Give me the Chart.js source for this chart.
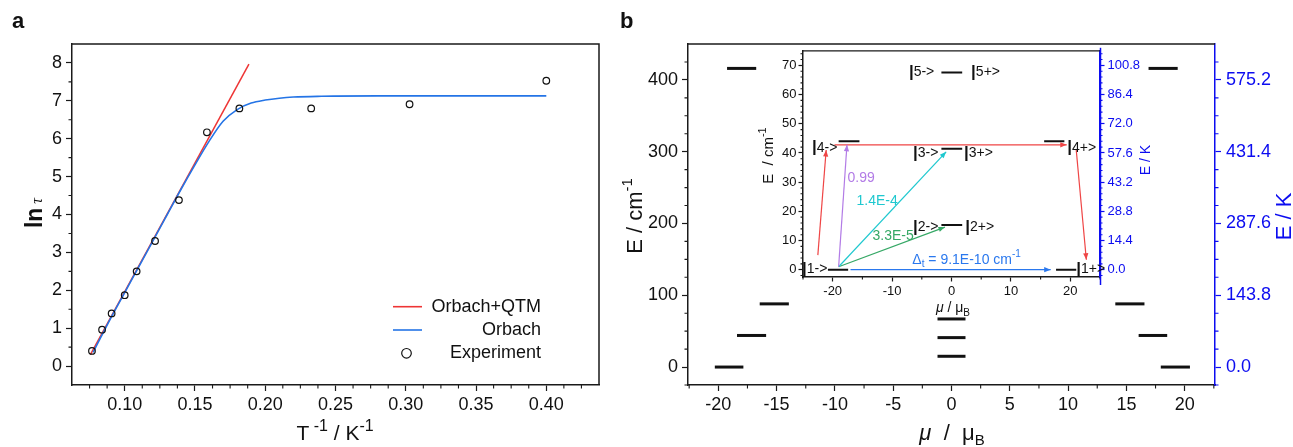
<!DOCTYPE html>
<html><head><meta charset="utf-8">
<script src="https://cdn.jsdelivr.net/npm/chart.js@4/dist/chart.umd.min.js"></script>
<style>
html,body{margin:0;padding:0;background:#fff;}
#wrap{position:relative;width:1293px;height:447px;overflow:hidden;background:#fff;}
canvas{position:absolute;}
</style></head><body>
<div id="wrap">
<canvas id="cA" width="620" height="447" style="left:0;top:0;width:620px;height:447px"></canvas>
<canvas id="cB" width="673" height="447" style="left:620px;top:0;width:673px;height:447px"></canvas>
<canvas id="cC" width="420" height="290" style="left:740px;top:40px;width:420px;height:290px"></canvas>
</div>
<script>
// ================= DATA =================
// Panel a : ln(tau) vs 1/T
const invT  = [0.0767, 0.0839, 0.0907, 0.1000, 0.1085, 0.1216, 0.1386, 0.1585, 0.1816, 0.2327, 0.3027, 0.4000];
const lnTau = [0.40, 0.96, 1.39, 1.87, 2.50, 3.30, 4.38, 6.17, 6.80, 6.80, 6.91, 7.53];
const fitRedX = [0.0756, 0.1884];
const fitRedY = [0.30, 7.97];
const fitBlueX = [0.0775, 0.09, 0.10, 0.11, 0.12, 0.13, 0.14, 0.15, 0.16, 0.17, 0.18, 0.19, 0.20, 0.21, 0.22, 0.24, 0.28, 0.40];
const fitBlueY = [0.36, 1.26, 1.94, 2.62, 3.30, 3.98, 4.66, 5.31, 5.93, 6.46, 6.77, 6.94, 7.02, 7.07, 7.10, 7.12, 7.13, 7.13];
const legendNames = ['Orbach+QTM', 'Orbach', 'Experiment'];
const aXTicks = [0.10, 0.15, 0.20, 0.25, 0.30, 0.35, 0.40];
const aXTickLabels = ['0.10', '0.15', '0.20', '0.25', '0.30', '0.35', '0.40'];
const aYTicks = [0, 1, 2, 3, 4, 5, 6, 7, 8];
const aYTickLabels = ['0', '1', '2', '3', '4', '5', '6', '7', '8'];

// Panel b main : energy levels (cm-1) vs magnetic moment
const sideE     = [0, 44, 88, 416];
const leftFrom  = [-20.3, -18.4, -16.45, -19.25];
const leftTo    = [-17.85, -15.9, -13.95, -16.75];
const rightFrom = [17.95, 16.05, 14.05, 16.9];
const rightTo   = [20.45, 18.5, 16.55, 19.4];
const centerE    = [15, 41, 67];
const centerFrom = [-1.2, -1.2, -1.2];
const centerTo   = [1.2, 1.2, 1.2];
const bXTicks = [-20, -15, -10, -5, 0, 5, 10, 15, 20];
const bXTickLabels = ['-20', '-15', '-10', '-5', '0', '5', '10', '15', '20'];
const bYTicks = [0, 100, 200, 300, 400];
const bYTickLabels = ['0', '100', '200', '300', '400'];
const bY2TickLabels = ['0.0', '143.8', '287.6', '431.4', '575.2'];

// Inset : low-lying levels and transition arrows
const insetE    = [0, 0, 15.3, 41.4, 44.0, 44.0, 67.6];
const insetFrom = [-20.8, 17.6, -1.7, -1.7, -19.0, 15.6, -1.7];
const insetTo   = [-17.4, 21.0, 1.8, 1.8, -15.5, 19.0, 1.8];
const arrowFromX = [-22.5, -19.0, -19.0, -19.0, -19.7, 21.0, -17.0];
const arrowFromY = [5.0, 1.0, 1.0, 1.0, 42.8, 41.0, 0.0];
const arrowToX   = [-21.1, -17.6, -0.9, -1.1, 19.4, 22.7, 16.7];
const arrowToY   = [41.0, 42.8, 40.4, 14.6, 42.8, 3.4, 0.0];
const stateNames = ['1->', '1+>', '4->', '4+>', '3->', '3+>', '2->', '2+>', '5->', '5+>'];
const stateAtX   = [-20.9, 21.0, -19.2, 19.5, -2.2, 2.1, -2.2, 2.3, -2.9, 3.3];
const stateAtY   = [0.3, 0.3, 41.8, 41.8, 40.0, 40.0, 14.6, 14.6, 67.6, 67.6];
const rateTexts  = ['0.99', '1.4E-4', '3.3E-5'];
const rateAtX    = [-17.5, -16.0, -13.3];
const rateAtY    = [31.5, 23.4, 11.4];
const deltaText  = ['\u0394', 't', ' = 9.1E-10 cm', '-1'];
const deltaAt    = [-6.6, 3.2];
const iXTicks = [-20, -10, 0, 10, 20];
const iXTickLabels = ['-20', '-10', '0', '10', '20'];
const iYTicks = [0, 10, 20, 30, 40, 50, 60, 70];
const iYTickLabels = ['0', '10', '20', '30', '40', '50', '60', '70'];
const iY2TickLabels = ['0.0', '14.4', '28.8', '43.2', '57.6', '72.0', '86.4', '100.8'];

// ================= STYLE =================
const FONT = "'Liberation Sans', Arial, Helvetica, sans-serif";
const SERIF = "'Liberation Serif', 'Times New Roman', serif";
const AX = '#1a1a1a';
const BLUEAX = '#0c0cf0';
const RED = '#ee3535', BLUE = '#2474e6';
const arrowColors = ['#ef4545', '#b27be6', '#1fc8cf', '#36a866', '#ef4545', '#ef4545', '#2a78ee'];
const rateColors  = ['#b27be6', '#1fc8cf', '#36a866'];
Chart.defaults.font.family = FONT;
Chart.defaults.color = '#111';
Chart.defaults.animation = false;

function mkAxis(o) {
  return {
    type: 'linear', position: o.pos, min: o.min, max: o.max,
    afterBuildTicks: s => { s.ticks = o.ticks.map(v => ({ value: v })); },
    afterFit: s => { if (o.w !== undefined) s.width = o.w; if (o.h !== undefined) s.height = o.h; },
    ticks: { callback: (v, i) => o.labels[i], color: o.color || '#111', font: { size: o.size || 18, family: FONT },
             padding: o.pad !== undefined ? o.pad : 4, autoSkip: false, maxRotation: 0, minRotation: 0 },
    grid: { drawOnChartArea: false, drawTicks: true, tickLength: o.tl || 6, tickWidth: 1.2,
            tickColor: o.line || AX, color: o.line || AX },
    border: { display: true, color: o.line || AX, width: 1.5 }
  };
}
function range(a, b, step, skip) {
  const out = [];
  for (let v = a; v <= b + 1e-9; v += step) {
    const r = Math.round(v * 10000) / 10000;
    if (skip && Math.abs(r / skip - Math.round(r / skip)) < 1e-6) continue;
    out.push(r);
  }
  return out;
}
function drawMinor(chart, items) {
  const ctx = chart.ctx;
  items.forEach(it => {
    const sc = chart.scales[it.scale];
    ctx.save(); ctx.strokeStyle = it.color || AX; ctx.lineWidth = 1.1; ctx.beginPath();
    it.values.forEach(v => {
      const p = sc.getPixelForValue(v);
      if (it.side === 'bottom') { ctx.moveTo(p, sc.top); ctx.lineTo(p, sc.top + it.len); }
      else if (it.side === 'left') { ctx.moveTo(sc.right, p); ctx.lineTo(sc.right - it.len, p); }
      else { ctx.moveTo(sc.left, p); ctx.lineTo(sc.left + it.len, p); }
    });
    ctx.stroke(); ctx.restore();
  });
}
function rich(ctx, parts, x, y, align, rot, baseline) {
  ctx.save();
  ctx.translate(x, y); if (rot) ctx.rotate(rot);
  ctx.textBaseline = baseline || 'alphabetic'; ctx.textAlign = 'left';
  let w = 0;
  parts.forEach(p => { ctx.font = p.f; p.w = ctx.measureText(p.t).width; w += p.w; });
  let cx = align === 'center' ? -w / 2 : align === 'right' ? -w : 0;
  parts.forEach(p => { ctx.font = p.f; ctx.fillStyle = p.c || '#111'; ctx.fillText(p.t, cx, p.dy || 0); cx += p.w; });
  ctx.restore();
}
function seg(x0, x1, y, color, width) {
  return { data: [{ x: x0, y: y }, { x: x1, y: y }], showLine: true, borderColor: color, borderWidth: width,
           pointRadius: 0, borderCapStyle: 'butt', fill: false };
}

// ================= PANEL a =================
const aDatasets = [
  { label: legendNames[2], data: invT.map((x, i) => ({ x: x, y: lnTau[i] })), showLine: false,
    pointRadius: 3.3, pointBorderWidth: 1.2, pointBorderColor: '#111', pointBackgroundColor: 'rgba(255,255,255,0)' },
  { label: legendNames[1], data: fitBlueX.map((x, i) => ({ x: x, y: fitBlueY[i] })), showLine: true,
    borderColor: BLUE, borderWidth: 1.6, pointRadius: 0, cubicInterpolationMode: 'monotone', fill: false },
  { label: legendNames[0], data: fitRedX.map((x, i) => ({ x: x, y: fitRedY[i] })), showLine: true,
    borderColor: RED, borderWidth: 1.5, pointRadius: 0, fill: false }
];
new Chart(document.getElementById('cA'), {
  type: 'scatter',
  data: { datasets: aDatasets },
  options: {
    responsive: false, devicePixelRatio: 1, animation: false,
    layout: { padding: { top: 44, right: 21, left: 0, bottom: 0 } },
    plugins: { legend: { display: false }, tooltip: { enabled: false } },
    scales: {
      x: mkAxis({ pos: 'bottom', min: 0.0625, max: 0.4375, ticks: aXTicks, labels: aXTickLabels, h: 62, pad: 3 }),
      y: mkAxis({ pos: 'left', min: -0.5, max: 8.5, ticks: aYTicks, labels: aYTickLabels, w: 72, pad: 4 })
    }
  },
  plugins: [{
    id: 'decorA',
    afterDraw(chart) {
      const ctx = chart.ctx, ca = chart.chartArea;
      drawMinor(chart, [
        { scale: 'x', side: 'bottom', len: 3.5, values: range(0.075, 0.425, 0.0125, 0.05) },
        { scale: 'y', side: 'left', len: 3.5, values: range(0.5, 7.5, 1) }
      ]);
      ctx.save(); ctx.strokeStyle = AX; ctx.lineWidth = 1.5; ctx.beginPath();
      ctx.moveTo(ca.left, ca.top); ctx.lineTo(ca.right, ca.top); ctx.lineTo(ca.right, ca.bottom); ctx.stroke(); ctx.restore();
      // panel letter
      rich(ctx, [{ t: 'a', f: 'bold 22px ' + FONT }], 12, 28, 'left');
      // axis titles
      rich(ctx, [{ t: 'ln', f: 'bold 23px ' + FONT }, { t: ' \u03C4', f: 'italic 16px ' + SERIF }], 42, 213, 'center', -Math.PI / 2);
      rich(ctx, [{ t: 'T', f: '21px ' + FONT }, { t: ' -1', f: '16px ' + FONT, dy: -9 }, { t: ' / K', f: '21px ' + FONT },
                 { t: '-1', f: '16px ' + FONT, dy: -9 }], 335, 440, 'center');
      // legend
      const lx0 = 393, lx1 = 422, tx = 541;
      const ys = [306.7, 330, 353.3];
      ctx.save();
      ctx.lineWidth = 1.6;
      ctx.strokeStyle = aDatasets[2].borderColor; ctx.beginPath(); ctx.moveTo(lx0, ys[0]); ctx.lineTo(lx1, ys[0]); ctx.stroke();
      ctx.strokeStyle = aDatasets[1].borderColor; ctx.beginPath(); ctx.moveTo(lx0, ys[1]); ctx.lineTo(lx1, ys[1]); ctx.stroke();
      ctx.strokeStyle = '#111'; ctx.lineWidth = 1.2; ctx.beginPath(); ctx.arc((lx0 + lx1) / 2 - 1, ys[2], 4.8, 0, Math.PI * 2); ctx.stroke();
      ctx.restore();
      legendNames.forEach((n, i) => rich(ctx, [{ t: n, f: '18px ' + FONT }], tx, ys[i], 'right', 0, 'middle'));
    }
  }]
});

// ================= PANEL b main =================
const bDatasets = [];
sideE.forEach((e, i) => {
  bDatasets.push(seg(leftFrom[i], leftTo[i], e, '#111', 3));
  bDatasets.push(seg(rightFrom[i], rightTo[i], e, '#111', 3));
});
centerE.forEach((e, i) => bDatasets.push(seg(centerFrom[i], centerTo[i], e, '#111', 3)));
new Chart(document.getElementById('cB'), {
  type: 'scatter',
  data: { datasets: bDatasets },
  options: {
    responsive: false, devicePixelRatio: 1, animation: false,
    layout: { padding: { top: 44, right: 0, left: 0, bottom: 0 } },
    plugins: { legend: { display: false }, tooltip: { enabled: false } },
    scales: {
      x: mkAxis({ pos: 'bottom', min: -22.6, max: 22.6, ticks: bXTicks, labels: bXTickLabels, h: 62, pad: 3 }),
      y: mkAxis({ pos: 'left', min: -25, max: 450, ticks: bYTicks, labels: bYTickLabels, w: 68, pad: 4 }),
      y2: mkAxis({ pos: 'right', min: -25, max: 450, ticks: bYTicks, labels: bY2TickLabels, w: 78, pad: 5,
                   color: BLUEAX, line: BLUEAX })
    }
  },
  plugins: [{
    id: 'decorB',
    afterDraw(chart) {
      const ctx = chart.ctx, ca = chart.chartArea;
      drawMinor(chart, [
        { scale: 'x', side: 'bottom', len: 3.5, values: range(-22.5, 22.5, 2.5, 5) },
        { scale: 'y', side: 'left', len: 3.5, values: range(-25, 425, 25, 100) },
        { scale: 'y2', side: 'right', len: 3.5, values: range(-25, 425, 25, 100), color: BLUEAX }
      ]);
      ctx.save(); ctx.strokeStyle = AX; ctx.lineWidth = 1.5; ctx.beginPath();
      ctx.moveTo(ca.left, ca.top); ctx.lineTo(ca.right, ca.top); ctx.stroke(); ctx.restore();
      rich(ctx, [{ t: 'b', f: 'bold 22px ' + FONT }], 0, 28, 'left');
      rich(ctx, [{ t: 'E / cm', f: '22px ' + FONT }, { t: '-1', f: '15px ' + FONT, dy: -10 }], 22, 216, 'center', -Math.PI / 2);
      rich(ctx, [{ t: 'E / K', f: '22px ' + FONT, c: BLUEAX }], 671, 216.5, 'center', -Math.PI / 2);
      rich(ctx, [{ t: '\u03BC', f: 'italic 22px ' + FONT }, { t: '  /  \u03BC', f: '22px ' + FONT }, { t: 'B', f: '15px ' + FONT, dy: 5 }],
           332, 440, 'center');
    }
  }]
});

// ================= INSET =================
const cDatasets = [];
insetE.forEach((e, i) => cDatasets.push(seg(insetFrom[i], insetTo[i], e, '#111', 2)));
const arrowStart = cDatasets.length;
arrowFromX.forEach((x, i) => cDatasets.push({
  data: [{ x: x, y: arrowFromY[i] }, { x: arrowToX[i], y: arrowToY[i] }], showLine: true,
  borderColor: arrowColors[i], borderWidth: 1.2, pointRadius: 0, fill: false
}));
new Chart(document.getElementById('cC'), {
  type: 'scatter',
  data: { datasets: cDatasets },
  options: {
    responsive: false, devicePixelRatio: 1, animation: false,
    layout: { padding: { top: 8, right: 0, left: 0, bottom: 0 } },
    plugins: { legend: { display: false }, tooltip: { enabled: false } },
    scales: {
      x: mkAxis({ pos: 'bottom', min: -25, max: 25, ticks: iXTicks, labels: iXTickLabels, h: 53, pad: 2, size: 13, tl: 4.5 }),
      y: mkAxis({ pos: 'left', min: -2.5, max: 75, ticks: iYTicks, labels: iYTickLabels, w: 63, pad: 2, size: 13, tl: 4.5 }),
      y2: mkAxis({ pos: 'right', min: -2.5, max: 75, ticks: iYTicks, labels: iY2TickLabels, w: 60, pad: 3, size: 13, tl: 4.5,
                   color: BLUEAX, line: BLUEAX })
    }
  },
  plugins: [{
    id: 'decorC',
    beforeDraw(chart) {
      const ctx = chart.ctx, ca = chart.chartArea;
      ctx.save(); ctx.fillStyle = '#fff'; ctx.fillRect(ca.left, ca.top, ca.right - ca.left, ca.bottom - ca.top); ctx.restore();
    },
    afterDatasetsDraw(chart) {
      const ctx = chart.ctx;
      for (let i = 0; i < arrowFromX.length; i++) {
        const meta = chart.getDatasetMeta(arrowStart + i);
        const p0 = meta.data[0], p1 = meta.data[1];
        const ang = Math.atan2(p1.y - p0.y, p1.x - p0.x);
        const L = 6.5, H = 2.6;
        ctx.save(); ctx.fillStyle = arrowColors[i]; ctx.translate(p1.x, p1.y); ctx.rotate(ang);
        ctx.beginPath(); ctx.moveTo(0, 0); ctx.lineTo(-L, -H); ctx.lineTo(-L, H); ctx.closePath(); ctx.fill(); ctx.restore();
      }
    },
    afterDraw(chart) {
      const ctx = chart.ctx, ca = chart.chartArea, sx = chart.scales.x, sy = chart.scales.y;
      drawMinor(chart, [
        { scale: 'x', side: 'bottom', len: 2.5, values: range(-25, 25, 5, 10) },
        { scale: 'y', side: 'left', len: 2.5, values: range(-2, 74, 2, 10) },
        { scale: 'y2', side: 'right', len: 2.5, values: range(-2, 74, 2, 10), color: BLUEAX }
      ]);
      ctx.save(); ctx.strokeStyle = AX; ctx.lineWidth = 1.3; ctx.beginPath();
      ctx.moveTo(ca.left, ca.top); ctx.lineTo(ca.right, ca.top); ctx.stroke();
      ctx.strokeStyle = BLUEAX; ctx.lineWidth = 1.5; ctx.beginPath();
      ctx.moveTo(ca.right + 0.5, ca.top - 3); ctx.lineTo(ca.right + 0.5, ca.bottom + 8); ctx.stroke();
      ctx.restore();
      // state labels
      stateNames.forEach((s, i) => {
        const align = i % 2 === 0 ? 'right' : 'left';
        rich(ctx, [{ t: '|', f: 'bold 17px ' + FONT }, { t: s, f: '14px ' + FONT }],
             sx.getPixelForValue(stateAtX[i]), sy.getPixelForValue(stateAtY[i]), align, 0, 'middle');
      });
      rateTexts.forEach((t, i) => rich(ctx, [{ t: t, f: '14px ' + FONT, c: rateColors[i] }],
             sx.getPixelForValue(rateAtX[i]), sy.getPixelForValue(rateAtY[i]), 'left', 0, 'middle'));
      const dc = arrowColors[6];
      rich(ctx, [{ t: deltaText[0], f: '14px ' + FONT, c: dc }, { t: deltaText[1], f: '10px ' + FONT, c: dc, dy: 4 },
                 { t: deltaText[2], f: '14px ' + FONT, c: dc }, { t: deltaText[3], f: '10px ' + FONT, c: dc, dy: -6 }],
           sx.getPixelForValue(deltaAt[0]), sy.getPixelForValue(deltaAt[1]), 'left', 0, 'middle');
      // titles
      rich(ctx, [{ t: 'E  / cm', f: '15px ' + FONT }, { t: '-1', f: '11px ' + FONT, dy: -7 }], 33, 115.5, 'center', -Math.PI / 2);
      rich(ctx, [{ t: 'E / K', f: '14px ' + FONT, c: BLUEAX }], 410, 120, 'center', -Math.PI / 2);
      rich(ctx, [{ t: '\u03BC', f: 'italic 14px ' + FONT }, { t: ' / \u03BC', f: '14px ' + FONT }, { t: 'B', f: '10px ' + FONT, dy: 4 }],
           213, 272, 'center');
    }
  }]
});
</script>
</body></html>
